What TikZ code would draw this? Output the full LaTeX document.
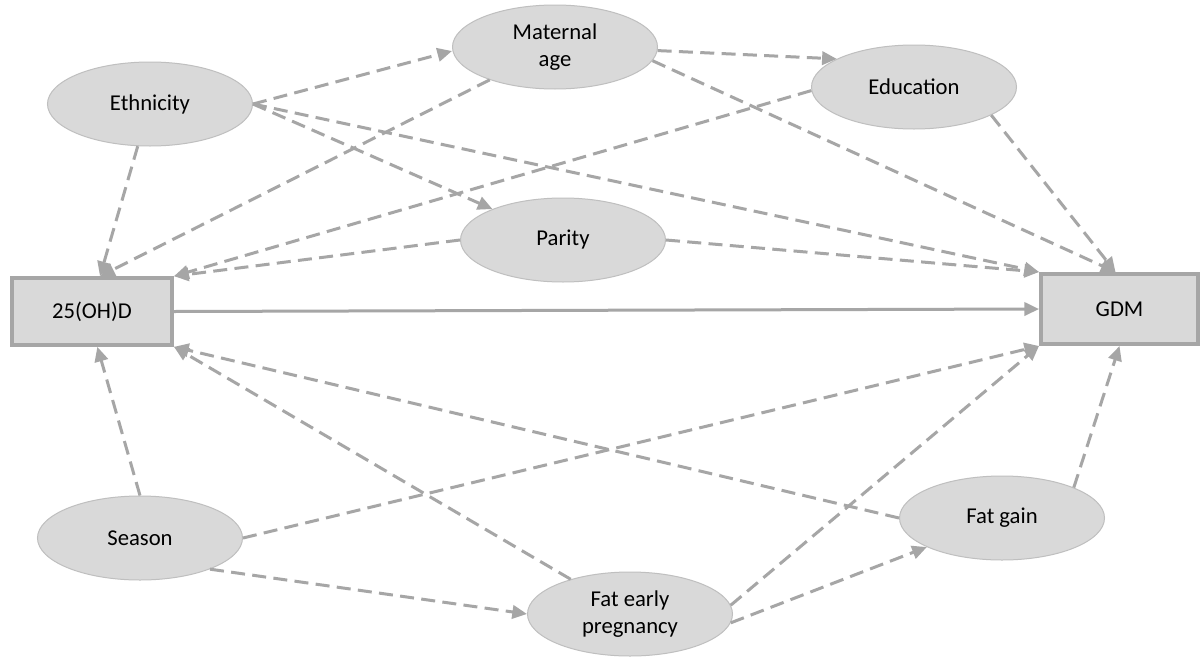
\documentclass[tikz,border=0pt]{standalone}
\usepackage{fontspec}
\setmainfont{Carlito}
\usetikzlibrary{arrows.meta,shapes.geometric}
\definecolor{lnc}{HTML}{A6A6A6}
\definecolor{fillc}{HTML}{D9D9D9}
\definecolor{elb}{HTML}{BFBFBF}
\begin{document}
\begin{tikzpicture}[x=0.75pt,y=-0.75pt,
  ell/.style={ellipse, draw=elb, line width=0.75pt, fill=fillc,
    minimum width=153.75pt, minimum height=63pt, inner sep=0pt,
    align=center, font=\fontsize{17}{20}\selectfont},
  box/.style={rectangle, draw=lnc, line width=3pt, fill=fillc,
    inner sep=0pt, font=\fontsize{17}{20}\selectfont},
  dep/.style={draw=lnc, line width=2.25pt, dash pattern=on 10.5pt off 5.5pt,
    -{Triangle[length=11pt,width=10pt]}},
  mainarr/.style={draw=lnc, line width=2.25pt,
    -{Triangle[length=11pt,width=10pt]}}]
\fill[white] (0,0) rectangle (1203,657);
\useasboundingbox (0,0) rectangle (1203,657);

\node[box, minimum width=120pt, minimum height=50pt] (ohd) at (92,311.5) {25(OH)D};
\node[box, minimum width=117.75pt, minimum height=52.5pt] (gdm) at (1119.5,309) {GDM};

\node[ell] (eth) at (150,104) {Ethnicity};
\node[ell] (mat) at (555,47) {Maternal\\age};
\node[ell] (edu) at (914,87) {Education};
\node[ell] (par) at (563,240) {Parity};
\node[ell] (sea) at (140,538) {Season};
\node[ell] (fe) at (630,614) {Fat early\\pregnancy};
\node[ell] (fg) at (1002,518) {Fat gain};

\draw[dep] (eth) -- ([xshift=6pt]ohd.north);
\draw[dep] (eth.east) -- ([yshift=-3pt]mat.west);
\draw[dep] (eth.east) -- (par);
\draw[dep] (eth.east) -- (gdm.north west);
\draw[dep] (mat.358) -- (edu.160);
\draw[dep] (mat.352) -- ([xshift=-3pt]gdm.north);
\draw[dep] (mat) -- ([xshift=6pt]ohd.north);
\draw[dep] (edu.182) -- (ohd.north east);
\draw[dep] (edu.340) -- ([xshift=-3pt]gdm.north);
\draw[dep] (par.west) -- (ohd.north east);
\draw[dep] (par.east) -- (gdm.north west);
\draw[mainarr] (ohd.east) -- (gdm.west);
\draw[dep] (sea.north) -- ([xshift=4pt]ohd.south);
\draw[dep] (sea.east) -- (gdm.south west);
\draw[dep] (sea.336) -- (fe.west);
\draw[dep] (fe) -- (ohd.south east);
\draw[dep] (fe.5) -- (gdm.south west);
\draw[dep] (fe.355) -- (fg);
\draw[dep] (fg.west) -- (ohd.south east);
\draw[dep] (fg.23) -- (gdm.south);
\end{tikzpicture}
\end{document}
